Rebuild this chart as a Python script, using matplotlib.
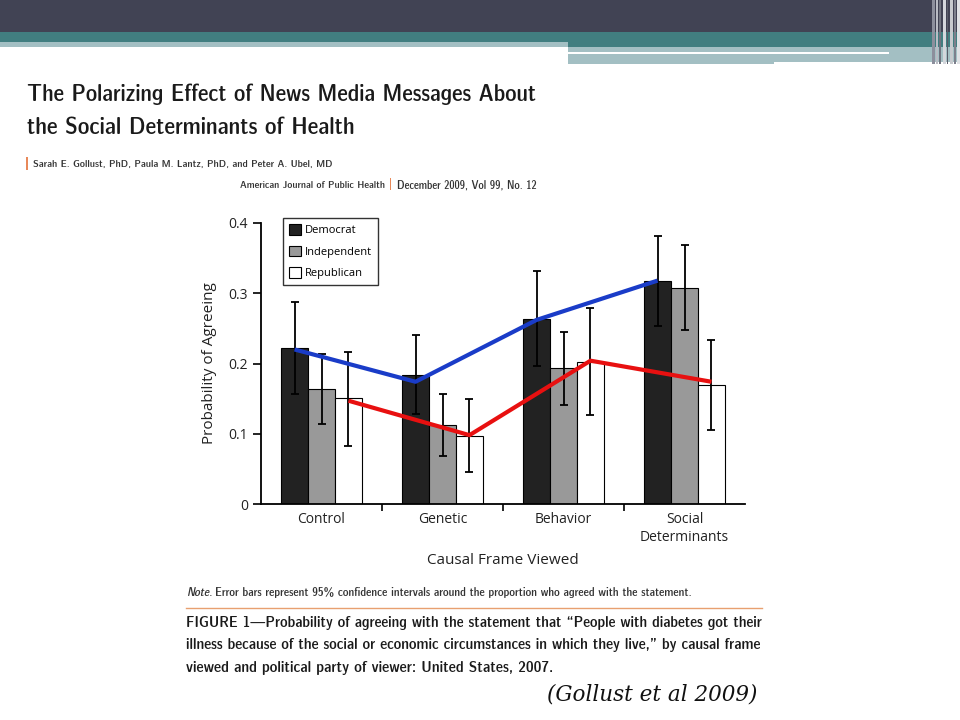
import numpy as np
import matplotlib
matplotlib.use('Agg')
import matplotlib.pyplot as plt
from matplotlib import font_manager
from matplotlib.patches import Rectangle, Patch
from matplotlib.lines import Line2D

# values
frames = ['Control', 'Genetic', 'Behavior', 'Social\nDeterminants']
parties = ['Democrat', 'Independent', 'Republican']
democrat = [0.222, 0.184, 0.264, 0.318]
independent = [0.164, 0.112, 0.193, 0.307]
republican = [0.151, 0.097, 0.202, 0.170]
dem_lo = [0.156, 0.128, 0.196, 0.254]
dem_hi = [0.287, 0.240, 0.331, 0.381]
ind_lo = [0.114, 0.068, 0.141, 0.247]
ind_hi = [0.213, 0.157, 0.245, 0.368]
rep_lo = [0.083, 0.045, 0.126, 0.105]
rep_hi = [0.217, 0.149, 0.279, 0.233]
# hand drawn trend lines over the bars
blue_line = [0.220, 0.174, 0.262, 0.318]
red_line = [0.147, 0.098, 0.204, 0.174]
yticks = [0, 0.1, 0.2, 0.3, 0.4]
ytick_labels = ['0', '0.1', '0.2', '0.3', '0.4']

W, H = 960, 720
fig = plt.figure(figsize=(9.6, 7.2), dpi=100)
renderer = fig.canvas.get_renderer()

# look for a narrow font for the journal text
narrow = None
for f in font_manager.fontManager.ttflist:
    if 'Narrow' in f.name or 'Condensed' in f.name or f.stretch in ('condensed', 'semi-condensed'):
        narrow = f.name
        if 'Liberation' in f.name:
            break
cond = dict(family=narrow or 'Liberation Sans')


def box(x, y, w, h, color):
    # rectangle given in pixels from the top left
    fig.add_artist(Rectangle((x / W, 1 - (y + h) / H), w / W, h / H,
                             transform=fig.transFigure, color=color, lw=0))


def text(x, y, s, width=None, **kw):
    t = fig.text(x / W, 1 - y / H, s, **kw)
    if width:
        # shrink or grow the size so the line spans the same width as the original
        w = t.get_window_extent(renderer).width
        t.set_fontsize(t.get_fontsize() * width / w)
    return t


# slide header
box(0, 0, 960, 32, '#414354')
box(0, 32, 960, 10, '#417e80')
box(568, 42, 392, 5, '#417e80')
box(0, 42, 568, 5, '#a3bfc3')
box(568, 47, 392, 15, '#a3bfc3')
box(568, 62, 206, 2, '#a3bfc3')
box(568, 52, 321, 2, 'white')
for sx, sw, sc in [(932, 3, '#8c8f9c'), (936, 2, '#b9bcc4'), (939, 2, '#70737f'),
                   (943, 3, '#d4d7dc'), (947, 1, '#5a5d6a'), (950, 3, '#c7cace'),
                   (954, 2, '#7d808c'), (957, 3, '#e0e2e5')]:
    box(sx, 0, sw, 64, sc)

text(27, 101, 'The Polarizing Effect of News Media Messages About', width=510,
     fontsize=20, weight='bold', color='#1a1a1a', **cond)
text(27, 134, 'the Social Determinants of Health', width=328,
     fontsize=20, weight='bold', color='#1a1a1a', **cond)
box(26, 157, 2, 13, '#e8895a')
text(33, 167, 'Sarah E. Gollust, PhD, Paula M. Lantz, PhD, and Peter A. Ubel, MD', width=300,
     fontsize=8, color='#333333', **cond)
text(240, 188, 'American Journal of Public Health', width=144,
     fontsize=7, color='#333333', **cond)
box(390, 178, 1, 12, '#e8895a')
text(397, 188, 'December 2009, Vol 99, No. 12', width=140,
     fontsize=7, color='#333333', **cond)

# chart
ax = fig.add_axes([261 / W, 1 - 504 / H, 484 / W, 281 / H])
x = np.arange(len(frames))
bw = 0.223
err_kw = dict(ecolor='black', elinewidth=1.3, capsize=3, capthick=1.3)
ax.bar(x - bw, democrat, bw, color='#222222', edgecolor='black', lw=0.8,
       yerr=[np.array(democrat) - dem_lo, np.array(dem_hi) - democrat], error_kw=err_kw)
ax.bar(x, independent, bw, color='#999999', edgecolor='black', lw=0.8,
       yerr=[np.array(independent) - ind_lo, np.array(ind_hi) - independent], error_kw=err_kw)
ax.bar(x + bw, republican, bw, color='white', edgecolor='black', lw=0.8,
       yerr=[np.array(republican) - rep_lo, np.array(rep_hi) - republican], error_kw=err_kw)
ax.plot(x - bw, blue_line, color='#1a3cc8', lw=3, solid_capstyle='butt', zorder=5)
ax.plot(x + bw, red_line, color='#e81010', lw=3, solid_capstyle='butt', zorder=5)

ax.set_xlim(-0.5, 3.5)
ax.set_ylim(0, 0.4)
ax.spines['top'].set_visible(False)
ax.spines['right'].set_visible(False)
ax.spines['left'].set_linewidth(1.3)
ax.spines['bottom'].set_linewidth(1.3)
ax.set_yticks(yticks)
ax.set_yticklabels(ytick_labels)
ax.set_xticks(x)
ax.set_xticklabels(frames)
ax.set_xticks(x[:-1] + 0.5, minor=True)
ax.tick_params(axis='x', which='major', length=0, pad=6, labelsize=10)
ax.tick_params(axis='x', which='minor', length=5, width=1.2)
ax.tick_params(axis='y', length=6, width=1.2, labelsize=10)
for t in ax.get_xticklabels() + ax.get_yticklabels():
    t.set_family('Open Sans')
    t.set_color('#222222')
ax.set_ylabel('Probability of Agreeing', fontsize=11, family='Open Sans',
              color='#222222', labelpad=8)
ax.set_xlabel('Causal Frame Viewed', fontsize=11, family='Open Sans',
              color='#222222', labelpad=6)

handles = [Patch(facecolor=c, edgecolor='black', lw=0.8)
           for c in ['#222222', '#999999', 'white']]
leg = ax.legend(handles, parties, loc='upper left', bbox_to_anchor=(0.045, 1.018),
                frameon=True, fancybox=False, handlelength=1.1,
                handleheight=1.1, handletextpad=0.3, labelspacing=0.85,
                borderpad=0.55, borderaxespad=0,
                prop={'family': 'Open Sans', 'size': 8})
leg.get_frame().set_edgecolor('black')
leg.get_frame().set_linewidth(1.0)

# notes below the chart
note = text(215, 596, 'Error bars represent 95% confidence intervals around the proportion who agreed with the statement.',
            width=478, fontsize=8, color='#333333', **cond)
text(186, 596, 'Note.', fontsize=note.get_fontsize(), style='italic', color='#333333', **cond)
fig.add_artist(Line2D([186 / W, 762 / W], [1 - 608 / H, 1 - 608 / H],
                      transform=fig.transFigure, color='#e8a070', lw=1))
caption = ['FIGURE 1\u2014Probability of agreeing with the statement that \u201cPeople with diabetes got their',
           'illness because of the social or economic circumstances in which they live,\u201d by causal frame',
           'viewed and political party of viewer: United States, 2007.']
cap_widths = [576, 576, 368]
for i, line in enumerate(caption):
    text(186, 627 + i * 22.5, line, width=cap_widths[i], fontsize=10, weight='bold',
         color='#1a1a1a', **cond)
text(757, 700, '(Gollust et al 2009)', fontsize=15.5, style='italic',
     family='DejaVu Serif', ha='right', color='#111111')

fig.savefig('out.png', dpi=100)
